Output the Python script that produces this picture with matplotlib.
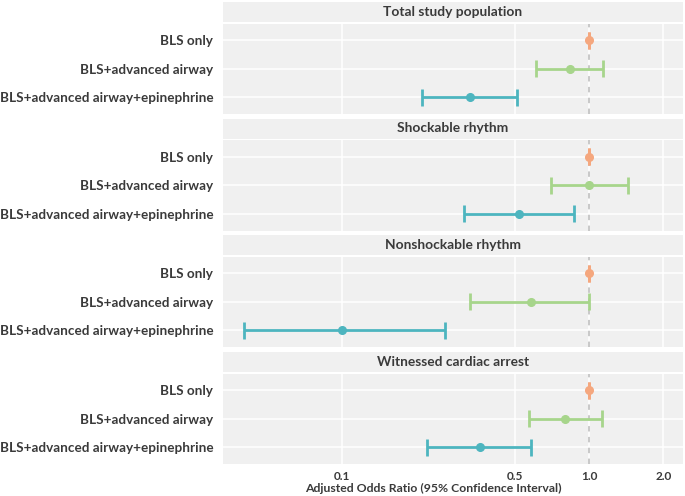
import numpy as np
import matplotlib
matplotlib.use('Agg')
import matplotlib.pyplot as plt

plt.rcParams['font.family'] = ['Lato', 'DejaVu Sans']

# Data (adjusted odds ratios, 95% CI)
panels = ['Total study population', 'Shockable rhythm',
          'Nonshockable rhythm', 'Witnessed cardiac arrest']
groups = ['BLS only', 'BLS+advanced airway', 'BLS+advanced airway+epinephrine']

or_est = [[1.00, 0.84, 0.33],
          [1.00, 1.00, 0.52],
          [1.00, 0.58, 0.10],
          [1.00, 0.80, 0.36]]
ci_low = [[1.00, 0.61, 0.21],
          [1.00, 0.70, 0.31],
          [1.00, 0.33, 0.04],
          [1.00, 0.57, 0.22]]
ci_high = [[1.00, 1.14, 0.51],
           [1.00, 1.44, 0.87],
           [1.00, 1.00, 0.26],
           [1.00, 1.13, 0.58]]

colors = ['#F5A77E', '#A7D58B', '#4DB5BF']
xticks = [0.1, 0.5, 1.0, 2.0]
xticklabels = ['0.1', '0.5', '1.0', '2.0']

W, H = 685, 496
fig = plt.figure(figsize=(W / 100, H / 100), dpi=100)

txt = '#3a3a3a'
bg = '#F0F0F0'
left, right = 223, 683
block_tops = [2, 118.5, 235, 352]
strip_h = 20
panel_h = 90.5

ypos = [3, 2, 1]
for i, name in enumerate(panels):
    top = block_tops[i]
    # strip
    sax = fig.add_axes([left / W, 1 - (top + strip_h) / H, (right - left) / W, strip_h / H])
    sax.set_facecolor(bg)
    sax.set_xticks([]); sax.set_yticks([])
    for s in sax.spines.values():
        s.set_visible(False)
    sax.text(0.5, 0.5, name, ha='center', va='center', fontsize=9.9,
             fontweight='bold', color=txt, transform=sax.transAxes)

    ptop = top + strip_h + 1.5
    ax = fig.add_axes([left / W, 1 - (ptop + panel_h) / H, (right - left) / W, panel_h / H])
    ax.set_facecolor(bg)
    ax.set_xscale('log')
    ax.set_xlim(0.0329, 2.4)
    ax.set_ylim(0.4, 3.6)
    for s in ax.spines.values():
        s.set_visible(False)
    ax.set_xticks(xticks)
    ax.xaxis.set_minor_locator(matplotlib.ticker.NullLocator())
    ax.grid(True, color='white', linewidth=1.1, zorder=0)
    ax.set_axisbelow(True)
    ax.tick_params(length=0)
    ax.set_yticks(ypos)
    ax.set_yticklabels(groups, fontsize=9.7, fontweight='bold', color=txt)
    ax.tick_params(axis='y', pad=7)
    if i == 3:
        ax.set_xticklabels(xticklabels, fontsize=8.5, fontweight='bold', color=txt)
        ax.tick_params(axis='x', pad=5)
    else:
        ax.set_xticklabels([])

    ax.axvline(1.0, color='#C4C4C4', linestyle=(0, (3, 3)), linewidth=1.3, zorder=1)
    for j in range(3):
        c = colors[j]
        y = ypos[j]
        ax.hlines(y, ci_low[i][j], ci_high[i][j], color=c, linewidth=2, zorder=2)
        ax.vlines([ci_low[i][j], ci_high[i][j]], y - 0.3, y + 0.3, color=c, linewidth=2, zorder=2)
        ax.plot(or_est[i][j], y, 'o', color=c, markersize=5.5, zorder=3)

fig.text(433 / W, 1 - 488 / H, 'Adjusted Odds Ratio (95% Confidence Interval)',
         ha='center', va='center', fontsize=8.8, fontweight='bold', color=txt)

fig.savefig('out.png', dpi=100)
